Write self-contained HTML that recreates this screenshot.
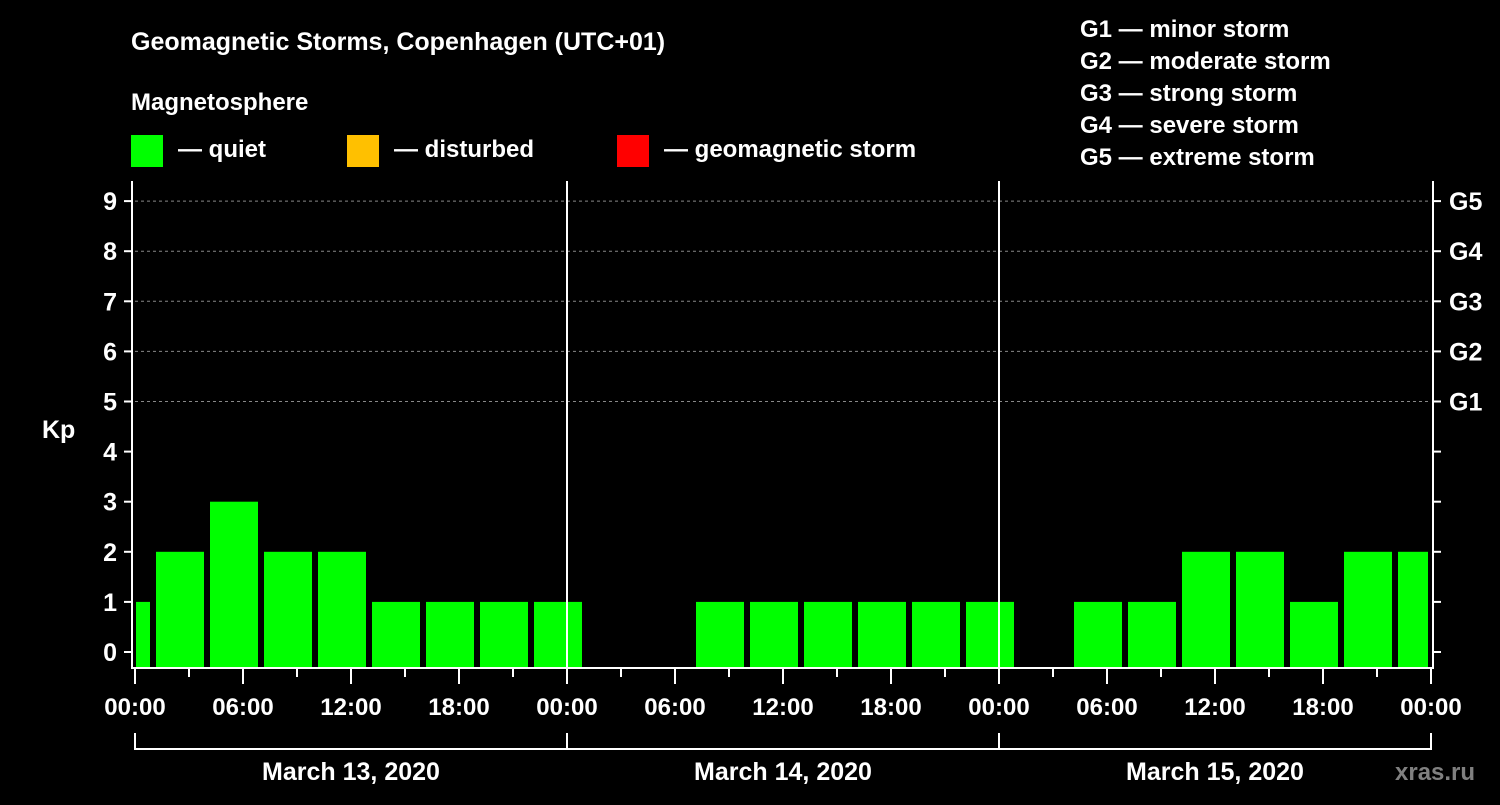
<!DOCTYPE html>
<html><head><meta charset="utf-8"><style>
html,body{margin:0;padding:0;background:#000;}
svg text{font-family:"Liberation Sans",sans-serif;font-weight:bold;fill:#fff;}
</style></head><body>
<svg width="1500" height="800" xmlns="http://www.w3.org/2000/svg">
<rect width="1500" height="800" fill="#000"/>
<text x="131" y="50" font-size="25">Geomagnetic Storms, Copenhagen (UTC+01)</text>
<text x="131" y="110" font-size="24">Magnetosphere</text>
<g><rect x="131" y="135" width="32" height="32" fill="#00ff00"/><text x="178" y="157" font-size="24">— quiet</text></g>
<g><rect x="347" y="135" width="32" height="32" fill="#ffc000"/><text x="394" y="157" font-size="24">— disturbed</text></g>
<g><rect x="617" y="135" width="32" height="32" fill="#ff0000"/><text x="664" y="157" font-size="24">— geomagnetic storm</text></g>
<g font-size="24">
<text x="1080" y="37">G1 — minor storm</text>
<text x="1080" y="69">G2 — moderate storm</text>
<text x="1080" y="101">G3 — strong storm</text>
<text x="1080" y="133">G4 — severe storm</text>
<text x="1080" y="165">G5 — extreme storm</text>
</g>
<text x="42" y="438" font-size="25">Kp</text>
<text x="1395" y="780" font-size="24" style="fill:#808080">xras.ru</text>
<g id="plot"></g>
</svg>
<script>
const kpValues = [1,2,3,2,2,1,1,1,1, 0,0,1,1,1,1,1,1, 0,1,1,2,2,1,2,2];
const barStartHour = -2;
const yTicks = [0,1,2,3,4,5,6,7,8,9];
const gLabels = ['G1','G2','G3','G4','G5'];
const xTickLabels = ['00:00','06:00','12:00','18:00','00:00','06:00','12:00','18:00','00:00','06:00','12:00','18:00','00:00'];
const dayLabels = ['March 13, 2020','March 14, 2020','March 15, 2020'];

const NS='http://www.w3.org/2000/svg';
const g=document.getElementById('plot');
const X0=135,PXH=18,HMAX=72;
const x=h=>X0+h*PXH;
const y=v=>652-v*50.1;
const BOT=667;
function mk(t,a,p){const e=document.createElementNS(NS,t);for(const k in a)e.setAttribute(k,a[k]);(p||g).appendChild(e);return e;}
// gridlines
for(let v=5;v<=9;v++){const l=mk('line',{x1:x(0),x2:x(HMAX),y1:y(v),y2:y(v),stroke:'#888','stroke-dasharray':'3,3','stroke-width':1});

}
// bars
kpValues.forEach((v,i)=>{if(v<=0)return;
 let h0=barStartHour+i*3,h1=h0+3;
 let a=Math.max(x(h0),x(0))+(h0<0?1:3), b=Math.min(x(h1),x(HMAX))-3;
 const col=v>=5?'#ff0000':(v>=4?'#ffc000':'#00ff00');
 const r=mk('rect',{x:a,y:y(v),width:b-a,height:BOT-y(v),fill:col});
 
 });
// day separators
[24,48].forEach(h=>{const l=mk('line',{x1:x(h),x2:x(h),y1:181,y2:BOT,stroke:'#fff','stroke-width':2});

});
// axes frame
const fr=mk('path',{d:`M${x(0)-3},181 V${BOT+1} H${x(HMAX)+2} V181`,fill:'none',stroke:'#fff','stroke-width':2});


// y ticks & labels
yTicks.forEach(v=>{mk('line',{x1:x(0)-11,x2:x(0)-3,y1:y(v),y2:y(v),stroke:'#fff','stroke-width':2});
 mk('line',{x1:x(HMAX)+2,x2:x(HMAX)+10,y1:y(v),y2:y(v),stroke:'#fff','stroke-width':2});
 const t=mk('text',{x:117,y:y(v)+9,'font-size':25,'text-anchor':'end'});t.textContent=v;
 
 });
gLabels.forEach((s,i)=>{const t=mk('text',{x:1449,y:y(5+i)+9,'font-size':25});t.textContent=s;
 
 });
// x ticks
for(let h=0;h<=HMAX;h+=3){const major=h%6===0;mk('line',{x1:x(h),x2:x(h),y1:BOT+1,y2:BOT+(major?17:10),stroke:'#fff','stroke-width':2});}
xTickLabels.forEach((s,i)=>{const t=mk('text',{x:x(i*6),y:715,'font-size':24,'text-anchor':'middle'});t.textContent=s;
 
 });
// day bracket
const br=mk('path',{d:`M${x(0)},733 V749 H${x(HMAX)} V733 M${x(24)},733 V749 M${x(48)},733 V749`,fill:'none',stroke:'#fff','stroke-width':2});


dayLabels.forEach((s,i)=>{const t=mk('text',{x:x(i*24+12),y:780,'font-size':25,'text-anchor':'middle'});t.textContent=s;
 
 });
</script>
</body></html>
